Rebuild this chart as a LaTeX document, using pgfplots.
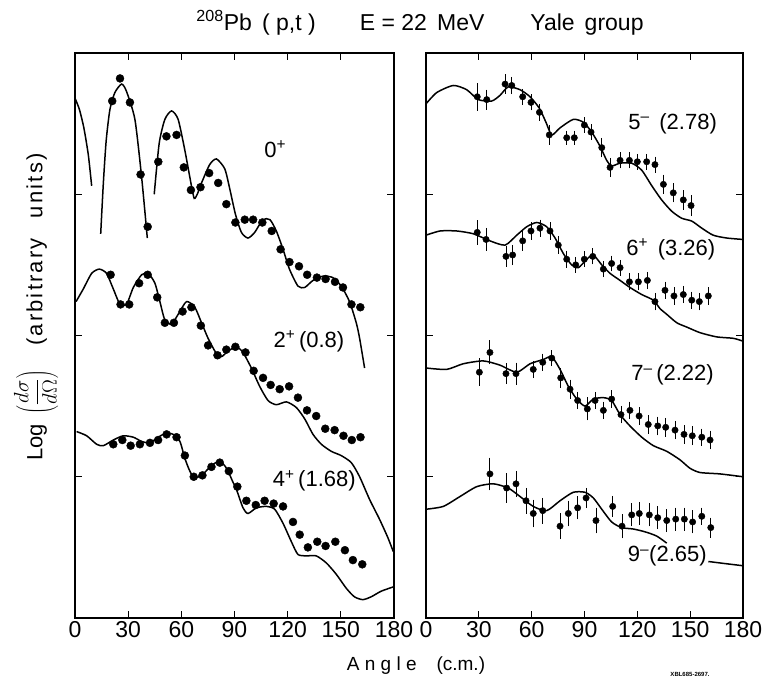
\documentclass[border=0pt]{standalone}
\usepackage{fontspec}
\setmainfont{Liberation Sans}
\usepackage{pgfplots}
\pgfplotsset{compat=1.18}
\begin{document}
\begin{tikzpicture}
\path[use as bounding box] (0pt,0pt) rectangle (765pt,678pt);
\tikzset{lab/.style={font=\fontsize{22}{22}\selectfont, anchor=center}}
\pgfplotsset{
 panel/.style={scale only axis, height=565pt, xmin=0, xmax=180, ymin=0, ymax=4,
  xtick={0,30,...,180}, ytick={1,2,3}, yticklabels={},
  tick align=inside, major tick length=7pt, tick pos=both,
  axis line style={line width=1.6pt}, every tick/.style={black,line width=1.3pt},
  tick label style={font=\fontsize{23}{23}\selectfont},
  /pgf/number format/assume math mode=true,
  clip=false, anchor=south west},
 curve/.style={black, line width=1.5pt, smooth, tension=0.4, mark=none},
 dots/.style={only marks, mark=*, mark size=4pt, black},
 edots/.style={only marks, mark=*, mark size=3.2pt, black,
  error bars/.cd, y dir=both, y explicit,
  error bar style={line width=0.9pt}, error mark options={line width=0.9pt, mark size=3pt}}
}
% ---------------- left panel ----------------
\begin{axis}[panel, width=319pt, at={(75pt,60pt)}]
% 0+
\addplot[curve] coordinates {(0,3.68)(2.5,3.60)(5,3.47)(7.5,3.28)(9.4,3.06)};
\addplot[curve] coordinates {(14.5,2.72)(16,3.08)(17.6,3.38)(19.7,3.60)(22.5,3.72)(26.3,3.78)(29,3.73)(33.8,3.53)(37.6,3.12)(40.8,2.69)};
\addplot[curve] coordinates {(44.7,3.0)(47.5,3.36)(50.7,3.53)(54.5,3.59)(58.2,3.53)(62,3.31)(65.7,3.06)(67.3,2.97)(69,3.0)(71.4,3.08)(76,3.21)(79.8,3.25)(84.5,3.18)(87.3,3.04)(90.5,2.86)(93.9,2.73)(97.6,2.69)(101.4,2.73)(106,2.82)(110,2.82)(113.6,2.74)(117.4,2.61)(121,2.47)(125.8,2.35)(129.6,2.34)(134.3,2.39)(139.9,2.42)(145.5,2.41)(150.2,2.35)(154.9,2.24)(158.7,2.09)(160.6,1.98)(163.4,1.77)};
\addplot[dots] coordinates {(25.4,3.82)(21,3.66)(31,3.65)(37,3.14)(41,2.77)(47,3.23)(51.6,3.41)(57.3,3.42)(61.4,3.19)(65.4,3.03)(70.8,3.05)(75.7,3.15)(80.8,3.08)(85.4,2.93)(90.5,2.80)(95.8,2.82)(100.5,2.82)(105.7,2.80)(111,2.74)(116,2.61)(121,2.52)(126.4,2.49)(131,2.43)(136.5,2.41)(141.4,2.40)(146.7,2.38)(151.2,2.34)(156,2.22)(161,2.20)};
% 2+
\addplot[curve] coordinates {(0.6,2.24)(4.7,2.33)(9.4,2.44)(13.7,2.47)(17.8,2.44)(21.6,2.33)(25.4,2.22)(29.1,2.22)(32.9,2.34)(37.6,2.43)(41.3,2.44)(45.1,2.37)(47.9,2.24)(50.7,2.11)(54.5,2.08)(58.2,2.15)(62.9,2.24)(67.6,2.20)(71.4,2.09)(75.1,1.98)(79.4,1.88)(82.6,1.85)(86.4,1.89)(91.1,1.92)(94.8,1.88)(99.5,1.77)(104.2,1.64)(108.9,1.54)(113.6,1.51)(119.3,1.53)(124.9,1.49)(129.6,1.41)(134.3,1.30)(139,1.23)(144.6,1.18)(150.2,1.15)(155.9,1.10)(160.6,1.00)(166.2,0.84)(171.8,0.70)(176.5,0.57)(179.6,0.47)};
\addplot[dots] coordinates {(20.1,2.43)(25.7,2.22)(30.6,2.22)(36.2,2.37)(41,2.43)(46.4,2.27)(50.7,2.09)(55.8,2.09)(60.7,2.17)(65.7,2.20)(71,2.07)(75.1,1.93)(80.4,1.86)(85.4,1.90)(90.5,1.92)(96.2,1.88)(100.8,1.75)(106.1,1.70)(110.4,1.65)(115.5,1.62)(120.8,1.64)(125.8,1.56)(130.9,1.47)(136.1,1.43)(141.2,1.34)(146.5,1.33)(151.5,1.29)(156.2,1.26)(161.1,1.28)};
% 4+
\addplot[curve] coordinates {(0.9,1.32)(6.6,1.29)(12.2,1.23)(16,1.22)(21.6,1.26)(27.2,1.29)(32.9,1.28)(37.6,1.25)(42.3,1.24)(46.9,1.28)(51.7,1.31)(55.4,1.30)(59.2,1.25)(62,1.13)(64.8,1.04)(67.6,0.99)(72.3,1.02)(77,1.08)(81.7,1.11)(85.5,1.06)(89.2,0.96)(91.1,0.91)(94.8,0.78)(97.6,0.74)(102.4,0.78)(108,0.79)(112.7,0.77)(117.4,0.67)(122.1,0.54)(125.8,0.45)(130.5,0.44)(136.1,0.44)(141.8,0.39)(147.4,0.31)(153.1,0.21)(157.7,0.15)(162.4,0.13)(167.1,0.15)(172.8,0.19)(179.6,0.22)};
\addplot[dots] coordinates {(21.6,1.23)(26.7,1.26)(31.4,1.22)(36.6,1.23)(42.3,1.24)(46.9,1.26)(51.7,1.30)(57.3,1.28)(62,1.15)(67,1.00)(71.9,1.01)(77,1.07)(81.7,1.10)(86.8,1.04)(91.6,0.93)(96.7,0.83)(102,0.80)(107,0.83)(112.1,0.81)(117.4,0.79)(123,0.68)(126.8,0.59)(131.4,0.50)(136.7,0.54)(141.4,0.51)(146.9,0.54)(152.3,0.48)(156.8,0.41)(162.1,0.38)};
\node[lab] at (axis cs:113,3.32) {0\textsuperscript{+}};
\node[lab] at (axis cs:132,1.96) {2\textsuperscript{+}\,(0.8)};
\node[lab] at (axis cs:135,0.97) {4\textsuperscript{+}\,(1.68)};
\end{axis}
% ---------------- right panel ----------------
\begin{axis}[panel, width=317pt, at={(426pt,60pt)}]
% 5-
\addplot[curve] coordinates {(0,3.64)(6.1,3.72)(15.5,3.77)(23.1,3.74)(29.7,3.67)(37.3,3.66)(42,3.70)(46.7,3.76)(53.4,3.74)(59.1,3.69)(64.3,3.61)(68.1,3.51)(71.4,3.42)(76.1,3.47)(83.6,3.53)(89.3,3.51)(94.1,3.44)(98.8,3.34)(102.6,3.24)(105.4,3.20)(110.2,3.22)(116.8,3.22)(122.5,3.17)(128.2,3.06)(133.8,2.96)(139.5,2.88)(145.2,2.83)(150.9,2.81)(156.6,2.76)(163.1,2.71)(170.8,2.69)(180,2.68)};
\addplot[edots] table[x=x,y=y,y error=e] {
x y e
29.1 3.69 0.076
34.5 3.67 0.05
44.9 3.78 0.047
48.7 3.77 0.04
54.9 3.69 0.035
59.6 3.65 0.035
64.4 3.58 0.04
70.0 3.42 0.047
79.9 3.40 0.03
84.2 3.40 0.03
89.9 3.49 0.035
93.7 3.44 0.035
99.8 3.33 0.047
104.5 3.19 0.047
110.2 3.24 0.035
115.5 3.24 0.035
120.0 3.23 0.035
125.3 3.23 0.035
130.0 3.21 0.035
134.8 3.07 0.047
140.4 3.01 0.047
146.1 2.96 0.047
150.5 2.92 0.053
};
% 6+
\addplot[curve] coordinates {(0,2.71)(8,2.74)(17.4,2.74)(26.9,2.72)(36.3,2.67)(44.9,2.64)(51.5,2.71)(57.2,2.77)(62.9,2.80)(68.5,2.77)(73.3,2.69)(78,2.58)(82.7,2.50)(86.5,2.48)(91.3,2.54)(95,2.57)(99.8,2.50)(104.5,2.44)(110.2,2.39)(115.8,2.34)(122.5,2.29)(129.1,2.25)(132.9,2.19)(136.7,2.15)(142.4,2.09)(148,2.06)(155.6,2.02)(165.1,1.99)(174.5,1.98)(180,1.96)};
\addplot[edots] table[x=x,y=y,y error=e] {
x y e
29.1 2.73 0.066
34.1 2.68 0.06
45.4 2.56 0.053
49.2 2.57 0.05
54.9 2.67 0.047
59.6 2.74 0.04
64.7 2.76 0.04
70.4 2.74 0.04
75.1 2.64 0.04
79.9 2.54 0.04
85.0 2.50 0.035
89.9 2.54 0.035
94.7 2.56 0.035
100.7 2.47 0.035
105.4 2.51 0.035
110.2 2.48 0.035
115.5 2.38 0.04
120.6 2.38 0.04
125.7 2.39 0.04
130.0 2.24 0.04
135.7 2.32 0.04
140.8 2.28 0.04
146.1 2.29 0.04
150.9 2.25 0.04
155.2 2.24 0.04
160.3 2.28 0.04
};
% 7-
\addplot[curve] coordinates {(0,1.77)(11.7,1.76)(21.2,1.80)(32.5,1.82)(42,1.79)(51.5,1.74)(59.1,1.80)(66.6,1.83)(71.4,1.85)(76.1,1.76)(80.8,1.64)(85.6,1.55)(90.3,1.50)(95,1.55)(100.7,1.56)(105.4,1.54)(110.2,1.44)(115.8,1.36)(122.5,1.28)(129.1,1.22)(136.7,1.18)(144.2,1.12)(149.9,1.06)(155.6,1.03)(167,1.02)(180,1.00)};
\addplot[edots] table[x=x,y=y,y error=e] {
x y e
30.3 1.74 0.076
36.3 1.88 0.064
45.4 1.73 0.053
51.1 1.73 0.057
60.9 1.76 0.04
66.3 1.81 0.04
71.4 1.84 0.035
76.5 1.70 0.05
81.8 1.62 0.047
86.1 1.54 0.04
91.6 1.48 0.06
96.0 1.54 0.04
100.7 1.47 0.04
105.4 1.55 0.04
110.7 1.44 0.04
115.8 1.47 0.04
121.0 1.43 0.04
126.2 1.37 0.045
131.6 1.36 0.045
136.1 1.35 0.045
141.4 1.33 0.045
146.5 1.30 0.045
151.2 1.29 0.045
156.6 1.28 0.04
161.3 1.26 0.045
};
% 9-
\addplot[curve] coordinates {(0,0.77)(9.8,0.79)(19.3,0.86)(28.8,0.93)(38.2,0.95)(46.7,0.92)(53.4,0.86)(60.9,0.79)(68.5,0.76)(76.1,0.83)(83.6,0.89)(90.3,0.89)(95,0.85)(99.8,0.77)(105.4,0.68)(111.1,0.64)(117.7,0.63)(124.4,0.61)(131,0.58)(136.7,0.53)};
\addplot[curve] coordinates {(160.3,0.40)(170,0.385)(180,0.37)};
\addplot[edots] table[x=x,y=y,y error=e] {
x y e
36.3 1.02 0.095
45.8 0.92 0.083
51.1 0.95 0.07
56.8 0.83 0.07
60.9 0.74 0.077
66.3 0.76 0.07
76.1 0.65 0.07
80.8 0.74 0.07
86.1 0.78 0.06
90.9 0.85 0.05
96.5 0.69 0.07
106.0 0.79 0.053
111.3 0.65 0.065
116.8 0.73 0.06
121.1 0.74 0.06
126.8 0.73 0.06
131.6 0.71 0.06
136.7 0.69 0.06
141.8 0.70 0.06
146.7 0.70 0.06
151.4 0.68 0.06
156.6 0.72 0.04
161.7 0.64 0.05
};
\node[lab] at (axis cs:140,3.50) {5\textsuperscript{--}\, (2.78)};
\node[lab] at (axis cs:139,2.61) {6\textsuperscript{+}\, (3.26)};
\node[lab] at (axis cs:140,1.72) {7\textsuperscript{--}\,(2.22)};
\node[lab] at (axis cs:137,0.44) {9\textsuperscript{--}(2.65)};
\end{axis}
% ---------------- outer texts ----------------
\node[font=\fontsize{23}{23}\selectfont] at (420pt,655pt) {\textsuperscript{208}Pb\, ( p,t )\hspace{44pt}E = 22\, MeV\hspace{46pt}Yale\hspace{10pt}group};
\node[font=\fontsize{22}{22}\selectfont, rotate=90] at (36pt,371pt) {Log\, $\left(\displaystyle\frac{d\sigma}{d\Omega}\right)$\hspace{24pt}{\spaceskip=2.2pt ( a r b i t r a r y}\hspace{20pt}{\spaceskip=2.2pt u n i t s )}};
\node[font=\fontsize{19}{19}\selectfont] at (416pt,12pt) {A n g l e\hspace{20pt}(c.m.)};
\node[font=\fontsize{6}{6}\selectfont\bfseries] at (690pt,4pt) {XBL685-2697.};
\end{tikzpicture}
\end{document}
